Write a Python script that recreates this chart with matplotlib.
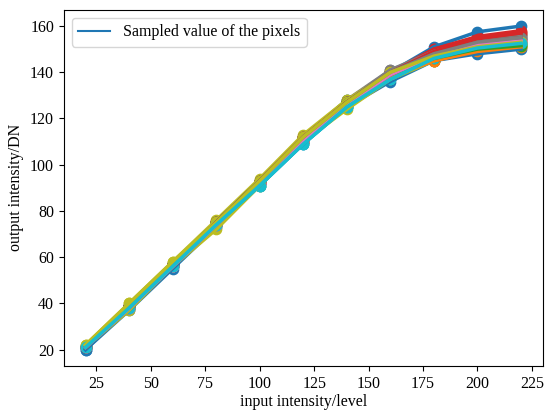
import matplotlib
matplotlib.use("Agg")
import matplotlib.pyplot as plt

plt.rcParams['font.family'] = ['Liberation Serif', 'DejaVu Serif']
plt.rcParams['font.size'] = 11.5

# input levels
levels = [20, 40, 60, 80, 100, 120, 140, 160, 180, 200, 220]

# sampled output of each pixel (one row per pixel)
samples = [
    [20, 38, 56, 74, 92, 111, 127, 140, 151, 157.5, 160],
    [21, 38, 56, 74, 92, 110, 126, 138, 145, 149, 151],
    [21, 39, 57, 75, 93, 112, 128, 139, 147, 151, 152.5],
    [21, 39, 57, 75, 93, 112, 127, 140, 150, 155, 157.5],
    [21, 38, 56, 74, 92, 111, 126, 139, 148, 152.5, 154.5],
    [21, 39, 57, 75, 93, 111, 127, 140, 149, 154, 156.5],
    [21, 38, 56, 74, 92, 110, 126, 139, 147, 152, 154],
    [21, 39, 57, 75, 93, 112, 128, 141, 148, 153, 155.5],
    [22, 40, 58, 76, 94, 113, 128, 140, 147, 151.5, 153.5],
    [21, 38, 56, 74, 92, 110, 125, 137, 146, 151, 153],
    [20, 37, 55, 73, 91, 109, 125, 136, 145, 148, 150],
    [21, 38, 56, 74, 92, 110, 126, 138, 145, 149.5, 151.5],
    [21, 39, 57, 75, 93, 111, 127, 139, 146, 150.5, 152],
    [21, 39, 57, 75, 93, 112, 127, 140, 150, 155.5, 158],
    [21, 38, 56, 74, 92, 111, 126, 139, 147, 152, 154],
    [21, 39, 57, 75, 93, 111, 127, 140, 149, 154, 156],
    [21, 38, 56, 74, 92, 110, 126, 139, 147, 151.5, 153.5],
    [21, 39, 57, 75, 93, 112, 127, 141, 149, 153.5, 155.5],
    [21, 37, 56, 72, 91, 110, 124, 137, 145, 150, 152],
    [21, 38, 56, 74, 91, 109, 125, 137, 146, 150, 152],
    [21, 38, 56, 74, 92, 110, 126, 138, 146, 150, 152.5],
    [21, 38, 56, 74, 92, 110, 126, 138, 145, 149, 151],
    [21, 39, 57, 75, 93, 111, 127, 139, 146, 150, 151.5],
    [21, 39, 57, 75, 93, 112, 127, 140, 149, 154.5, 157],
    [21, 38, 56, 74, 92, 111, 126, 139, 147, 152, 154.5],
    [21, 39, 57, 75, 93, 111, 127, 140, 148, 153, 155],
    [21, 38, 56, 74, 92, 110, 126, 139, 147, 152, 153.5],
    [21, 39, 57, 75, 93, 112, 127, 140, 148, 153, 155],
    [22, 40, 58, 75, 93, 112, 127, 140, 147, 151, 153],
    [21, 38, 56, 74, 91, 109, 125, 137, 146, 150.5, 152.5],
]

fig = plt.figure(figsize=(5.45, 4.11), dpi=100)
ax = fig.add_axes([0.117, 0.11, 0.879, 0.866])

for i, row in enumerate(samples):
    ax.scatter(levels, row, s=55)
for i, row in enumerate(samples):
    label = "Sampled value of the pixels" if i == 0 else None
    ax.plot(levels, row, linewidth=2.5, label=label)

ax.set_xlabel("input intensity/level", labelpad=2)
ax.set_ylabel("output intensity/DN", labelpad=4)
ax.set_xticks([25, 50, 75, 100, 125, 150, 175, 200, 225])
ax.set_yticks([20, 40, 60, 80, 100, 120, 140, 160])
leg = ax.legend(loc='upper left', handlelength=2.0)
for h in leg.get_lines():
    h.set_linewidth(1.5)

fig.savefig("out.png", dpi=100)
